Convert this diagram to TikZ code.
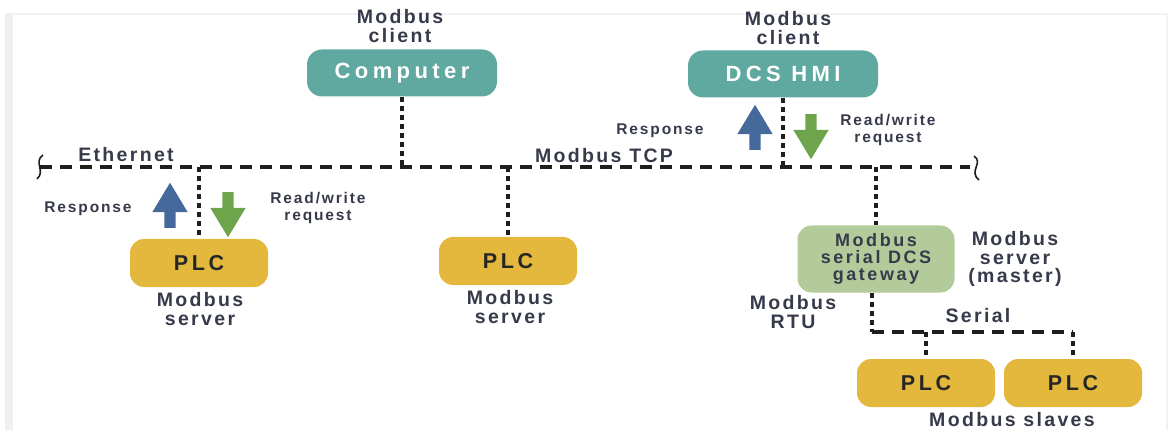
\documentclass[tikz,border=0pt]{standalone}
\usepackage{fontspec}
\setmainfont{Liberation Sans}[LetterSpace=12]
\usetikzlibrary{shapes.arrows}
\definecolor{hmiteal}{HTML}{5FA9A1}
\definecolor{plcyellow}{HTML}{E3B83C}
\definecolor{gwgreen}{HTML}{B3CB9B}
\definecolor{respblue}{HTML}{46699B}
\definecolor{reqgreen}{HTML}{6EA54C}
\definecolor{labtext}{HTML}{363A4A}
\definecolor{linegray}{HTML}{1E1E1E}

\begin{document}
\begin{tikzpicture}[x=1pt,y=-1pt,
  every node/.style={text=labtext, inner sep=0pt},
  big/.style={font=\bfseries\fontsize{19.5}{18.5}\selectfont, align=center},
  small/.style={font=\bfseries\fontsize{15.5}{17}\selectfont\addfontfeature{LetterSpace=12},
    align=center},
  client/.style={fill=hmiteal, rounded corners=15pt, text=white,
    font=\bfseries\fontsize{22}{22}\selectfont\addfontfeature{LetterSpace=20},
    minimum width=190pt, minimum height=47pt},
  plc/.style={fill=plcyellow, rounded corners=14pt, text=black!85,
    font=\bfseries\fontsize{21.5}{21}\selectfont\addfontfeature{LetterSpace=17},
    minimum width=138pt, minimum height=48pt},
  gateway/.style={fill=gwgreen, rounded corners=14pt, align=center,
    font=\bfseries\fontsize{18}{17}\selectfont\addfontfeature{LetterSpace=14},
    minimum width=157pt, minimum height=67pt},
  busline/.style={linegray, line width=3.2pt, dash pattern=on 12pt off 8pt},
  dotline/.style={linegray, line width=3.8pt, dash pattern=on 5pt off 4pt},
  squig/.style={linegray, line width=1.6pt},
  blockarrow/.style={single arrow, minimum height=45pt, inner sep=5.5pt,
    single arrow head extend=12pt, single arrow tip angle=62},
  respup/.style={blockarrow, fill=respblue, shape border rotate=90},
  reqdown/.style={blockarrow, fill=reqgreen, shape border rotate=270}]
\useasboundingbox (0,0) rectangle (1169,430);
\fill[black!6] (5,14) rectangle (13,430);
\draw[black!5, line width=1.5pt] (5,14) -- (1167,14) -- (1167,430);

\node[client] (computer) at (402,73) {Computer};
\node[big] (computerrole) at (400,26) {Modbus\\client};
\node[client] (dcs) at (783,74) {DCS HMI};
\node[big] (dcsrole) at (788,28) {Modbus\\client};

\coordinate (busL) at (40,167);
\coordinate (busR) at (970,167);
\draw[busline] (busL) -- (busR);
\draw[squig] (43,155) .. controls (33,162) and (46,171) .. (37,179);
\draw[squig] (974,156) .. controls (984,163) and (968,171) .. (979,180);
\node[big] (ethernet) at (126,155) {Ethernet};
\node[big] (tcp) at (604,156) {Modbus TCP};

\draw[dotline] (computer.south) -- (computer.south |- busL);
\draw[dotline] (dcs.south) -- (dcs.south |- busL);

\node[plc] (plcA) at (199,263) {PLC};
\node[big] (plcArole) at (200,309) {Modbus\\server};
\draw[dotline] (plcA.north |- busL) -- (plcA.north);
\node[respup] (respA) at (170,210) {};
\node[reqdown] (reqA) at (228,210) {};
\node[small] (respAlab) at (88,209) {Response};
\node[small] (reqAlab) at (318,208) {Read/write\\request};

\node[plc] (plcB) at (508,261) {PLC};
\node[big] (plcBrole) at (510,307) {Modbus\\server};
\draw[dotline] (plcB.north |- busL) -- (plcB.north);

\node[respup] (respB) at (755,132) {};
\node[reqdown] (reqB) at (811,132) {};
\node[small] (respBlab) at (660,131) {Response};
\node[small] (reqBlab) at (888,130) {Read/write\\request};

\node[gateway] (gw) at (876,259) {Modbus\\serial DCS\\gateway};
\node[big] (gwrole) at (1015,259) {Modbus\\server\\(master)};
\node[big] (rtu) at (793,312) {Modbus\\RTU};
\draw[dotline] (gw.north |- busL) -- (gw.north);

\coordinate (serL) at (872,332);
\node[plc] (plcC) at (926,383) {PLC};
\node[plc] (plcD) at (1073,383) {PLC};
\node[big] (serial) at (978,316) {Serial};
\node[big] (slaves) at (1012,420) {Modbus slaves};
\draw[dotline] (gw.south -| serL) -- (serL);
\draw[busline] (serL) -- (serL -| plcD);
\draw[dotline] (serL -| plcC) -- (plcC.north);
\draw[dotline] (serL -| plcD) -- (plcD.north);
\end{tikzpicture}
\end{document}
